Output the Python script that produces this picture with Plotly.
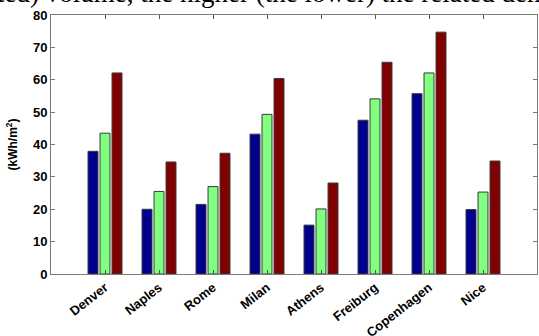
import plotly.graph_objects as go

# Annual energy demand per city for three envelope configurations
cities = ["Denver", "Naples", "Rome", "Milan", "Athens", "Freiburg", "Copenhagen", "Nice"]
series_low = [37.9, 20.0, 21.5, 43.2, 15.1, 47.5, 55.7, 19.9]
series_mid = [43.5, 25.5, 27.0, 49.3, 20.1, 54.1, 62.1, 25.3]
series_high = [62.1, 34.6, 37.3, 60.4, 28.1, 65.4, 74.7, 34.9]
series_colors = ["#00008F", "#80FF80", "#800000"]
y_ticks = [0, 10, 20, 30, 40, 50, 60, 70, 80]

W, H = 539, 336
ML, MR, MT, MB = 51, 2, 15, 62

fig = go.Figure()
for vals, col in zip([series_low, series_mid, series_high], series_colors):
    fig.add_trace(go.Bar(
        x=cities, y=vals,
        marker=dict(color=col, line=dict(color="#3a3a3a", width=1)),
        showlegend=False,
    ))

tick_font = dict(family="Liberation Sans, Arial, sans-serif", size=13, color="black", weight="bold")

fig.update_layout(
    width=W, height=H,
    margin=dict(l=ML, r=MR, t=MT, b=MB, pad=0),
    paper_bgcolor="white", plot_bgcolor="white",
    barmode="group", bargap=0.333, bargroupgap=0.17,
    xaxis=dict(
        type="category", range=[-1, 8], automargin=False,
        showline=True, linecolor="#7a7a7a", linewidth=1, mirror="ticks",
        ticks="inside", ticklen=4, tickcolor="#555555",
        tickangle=-38, tickfont=tick_font,
        showgrid=False, zeroline=False,
    ),
    yaxis=dict(
        range=[0, 80], tickvals=y_ticks, automargin=False,
        showline=True, linecolor="#7a7a7a", linewidth=1, mirror="ticks",
        ticks="inside", ticklen=4, tickcolor="#7a7a7a",
        tickfont=tick_font,
        showgrid=False, zeroline=False,
        title=dict(text="(kWh/m<sup>2</sup>)", standoff=12,
                   font=dict(family="Liberation Sans, Arial, sans-serif", size=12, color="black", weight="bold")),
    ),
)

# Running text of the surrounding page, clipped at the top edge
fig.add_annotation(
    text="ted) volume, the higher (the lower) the related demand",
    xref="paper", yref="paper",
    x=-(ML + 5) / (W - ML - MR), y=1 + 22 / (H - MT - MB),
    xanchor="left", yanchor="middle", showarrow=False,
    font=dict(family="Liberation Serif, Times New Roman, serif", size=27, color="black"),
)

fig.write_html("out.html")
